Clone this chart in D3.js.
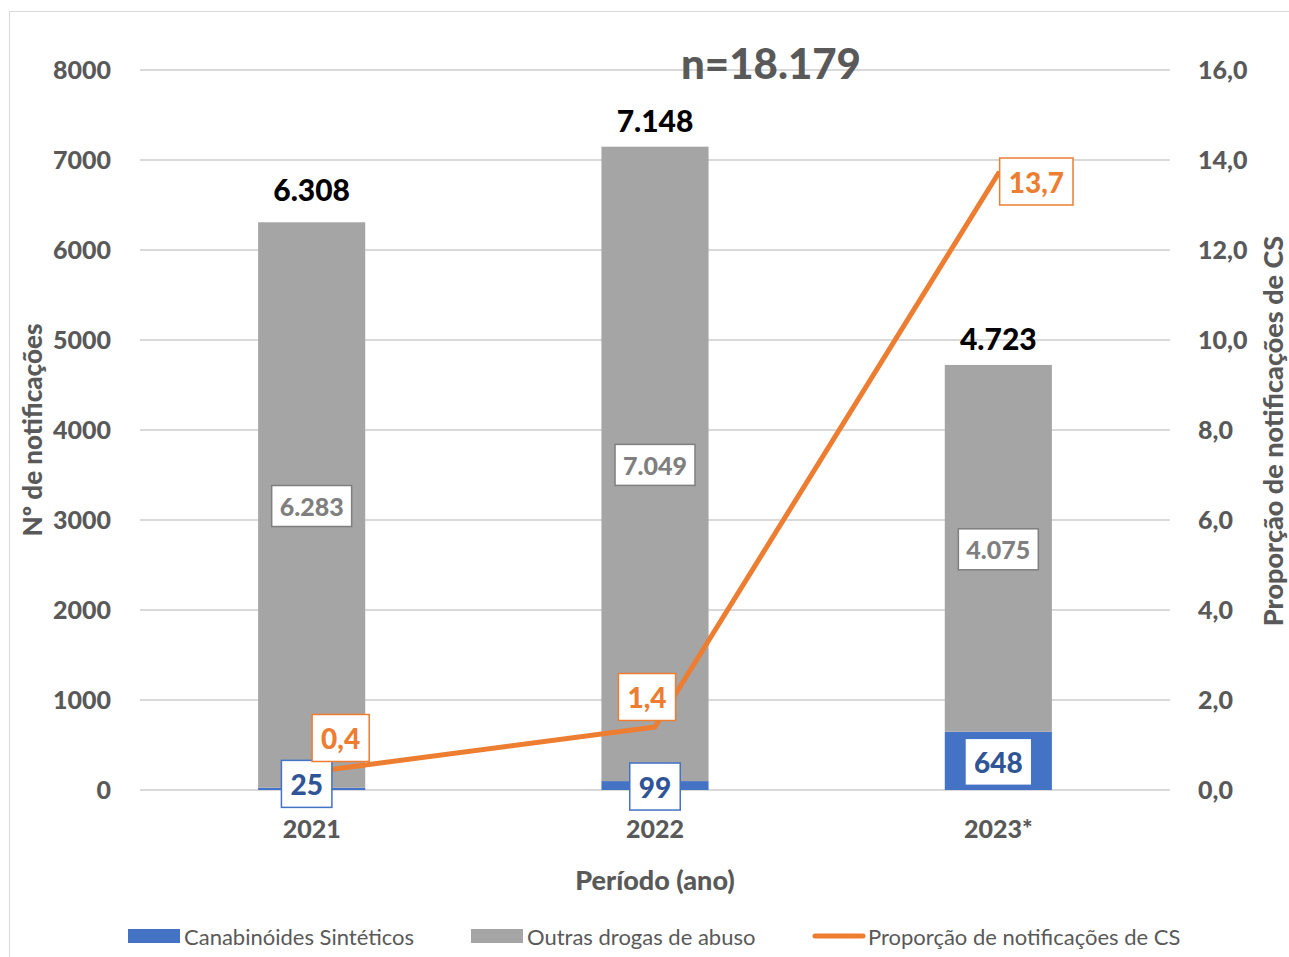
<!DOCTYPE html>
<html>
<head>
<meta charset="utf-8">
<script src="https://cdn.jsdelivr.net/npm/d3@7"></script>
<style>
  html, body { margin: 0; padding: 0; background: #fff; }
  svg text { font-family: Lato, "Open Sans", sans-serif; }
</style>
</head>
<body>
<svg id="chart" width="1289" height="957"></svg>
<script>
// data
const categories = ["2021", "2022", "2023*"];
const canabinoides = [25, 99, 648];
const outras = [6283, 7049, 4075];
const totais = [6308, 7148, 4723];
const proporcao = [0.4, 1.4, 13.7];
const leftTicks = [0, 1000, 2000, 3000, 4000, 5000, 6000, 7000, 8000];
const rightTicks = [0, 2, 4, 6, 8, 10, 12, 14, 16];
const nTotal = 18179;

// layout nudges (hand placed labels in the original)
const lineLabelNudge = [[29, -34], [-8, -30], [38, 8]];
const csLabelNudge = [[-5, -5], [0, 1], [0, 1]];
const totalNudge = [-6, 0, 0];

const width = 1289, height = 957;
const m = { left: 140, right: 1170, top: 70, bottom: 790 };

const blue = "#4472c4", gray = "#a5a5a5", orange = "#ed7d31", txt = "#595959";
const heavy = 900;

const pt = d3.formatLocale({ decimal: ",", thousands: ".", grouping: [3], currency: ["R$", ""] });
const fmtK = pt.format(",d");
const fmt1 = pt.format(".1f");

const svg = d3.select("#chart");

// frame
svg.append("rect")
  .attr("x", 9.5).attr("y", 11.5)
  .attr("width", width).attr("height", height)
  .attr("fill", "none").attr("stroke", "#d9d9d9").attr("stroke-width", 1);

const x = d3.scaleBand().domain(categories).range([m.left, m.right]).paddingInner(0.688).paddingOuter(0.344);
const y = d3.scaleLinear().domain([0, 8000]).range([m.bottom, m.top]);
const y2 = d3.scaleLinear().domain([0, 16]).range([m.bottom, m.top]);
const cx = c => x(c) + x.bandwidth() / 2;

// gridlines
svg.append("g")
  .selectAll("line")
  .data(leftTicks)
  .enter().append("line")
  .attr("x1", m.left).attr("x2", m.right)
  .attr("y1", d => y(d)).attr("y2", d => y(d))
  .attr("stroke", "#d9d9d9").attr("stroke-width", 2);

// left axis
const yAxis = svg.append("g")
  .attr("transform", "translate(" + (m.left - 29) + ",0)")
  .call(d3.axisLeft(y).tickValues(leftTicks).tickFormat(d3.format("d")).tickSize(0).tickPadding(0));
yAxis.select(".domain").remove();
yAxis.selectAll("text")
  .attr("font-size", 25).attr("font-weight", heavy).attr("fill", txt)
  .style("font-family", "Lato");

// right axis
const y2Axis = svg.append("g")
  .attr("transform", "translate(" + (m.right + 28) + ",0)")
  .call(d3.axisRight(y2).tickValues(rightTicks).tickFormat(fmt1).tickSize(0).tickPadding(0));
y2Axis.select(".domain").remove();
y2Axis.selectAll("text")
  .attr("font-size", 25).attr("font-weight", heavy).attr("fill", txt)
  .style("font-family", "Lato");

// x axis
const xAxis = svg.append("g")
  .attr("transform", "translate(0," + (m.bottom + 30) + ")")
  .call(d3.axisBottom(x).tickSize(0).tickPadding(0));
xAxis.select(".domain").remove();
xAxis.selectAll("text")
  .attr("font-size", 25).attr("font-weight", heavy).attr("fill", txt)
  .style("font-family", "Lato");

// stacked bars
const rows = categories.map((c, i) => ({ cat: c, cs: canabinoides[i], outras: outras[i], total: totais[i] }));
const stack = d3.stack().keys(["cs", "outras"])(rows);
const colors = { cs: blue, outras: gray };

svg.append("g")
  .selectAll("g")
  .data(stack)
  .enter().append("g")
  .attr("fill", d => colors[d.key])
  .selectAll("rect")
  .data(d => d)
  .enter().append("rect")
  .attr("x", d => x(d.data.cat))
  .attr("width", x.bandwidth())
  .attr("y", d => y(d[1]))
  .attr("height", d => y(d[0]) - y(d[1]));

// line
const linePts = categories.map((c, i) => [cx(c), y2(proporcao[i])]);
svg.append("path")
  .attr("d", d3.line()(linePts))
  .attr("fill", "none")
  .attr("stroke", orange)
  .attr("stroke-width", 5)
  .attr("stroke-linejoin", "round")
  .attr("stroke-linecap", "round");

// boxed label helper
function boxLabel(g, cxp, cyp, text, opt) {
  const t = g.append("text")
    .attr("x", cxp).attr("y", cyp)
    .attr("text-anchor", "middle")
    .attr("dominant-baseline", "central")
    .attr("font-size", opt.size).attr("font-weight", heavy)
    .attr("fill", opt.color)
    .text(text);
  const w = t.node().getComputedTextLength() + opt.padX * 2;
  g.insert("rect", "text:last-child")
    .attr("x", cxp - w / 2).attr("y", cyp - opt.h / 2)
    .attr("width", w).attr("height", opt.h)
    .attr("fill", "#fff")
    .attr("stroke", opt.border).attr("stroke-width", 1.5);
}

const labels = svg.append("g");

// leader line for 0,4
labels.append("line")
  .attr("x1", linePts[0][0] + 1).attr("y1", linePts[0][1])
  .attr("x2", linePts[0][0] + 19).attr("y2", linePts[0][1] - 7)
  .attr("stroke", "#a6a6a6").attr("stroke-width", 1.2);

// outras labels (middle of grey segment)
stack[1].forEach(d => {
  const g = labels.append("g");
  boxLabel(g, cx(d.data.cat), (y(d[0]) + y(d[1])) / 2 + 1, fmtK(d.data.outras),
    { size: 25, color: "#7f7f7f", border: "#7f7f7f", padX: 8, h: 41 });
});

// CS labels
stack[0].forEach((d, i) => {
  const g = labels.append("g");
  boxLabel(g, cx(d.data.cat) + csLabelNudge[i][0], (y(d[0]) + y(d[1])) / 2 + csLabelNudge[i][1], fmtK(d.data.cs),
    { size: 28, color: "#2f5597", border: blue, padX: 9, h: 47 });
});

// proportion labels
proporcao.forEach((v, i) => {
  const g = labels.append("g");
  boxLabel(g, linePts[i][0] + lineLabelNudge[i][0], linePts[i][1] + lineLabelNudge[i][1], fmt1(v),
    { size: 28, color: orange, border: orange, padX: 9, h: 47 });
});

// totals above bars
labels.selectAll(".total")
  .data(rows)
  .enter().append("text")
  .attr("class", "total")
  .attr("x", d => cx(d.cat))
  .attr("y", (d, i) => y(d.total) - 15 + totalNudge[i])
  .attr("text-anchor", "middle")
  .attr("font-size", 30).attr("font-weight", heavy).attr("fill", "#000")
  .text(d => fmtK(d.total));

// n total
svg.append("text")
  .attr("x", 771).attr("y", 79)
  .attr("text-anchor", "middle")
  .attr("font-size", 42).attr("font-weight", heavy).attr("fill", txt)
  .text("n=" + fmtK(nTotal));

// axis titles
svg.append("text")
  .attr("transform", "translate(42,430) rotate(-90)")
  .attr("text-anchor", "middle")
  .attr("font-size", 26).attr("font-weight", heavy).attr("fill", txt)
  .text("Nº de notificações");

svg.append("text")
  .attr("transform", "translate(1283,431) rotate(-90)")
  .attr("text-anchor", "middle")
  .attr("font-size", 27).attr("font-weight", heavy).attr("fill", txt)
  .text("Proporção de notificações de CS");

svg.append("text")
  .attr("x", 655).attr("y", 890)
  .attr("text-anchor", "middle")
  .attr("font-size", 27).attr("font-weight", heavy).attr("fill", txt)
  .text("Período (ano)");

// legend
const legendItems = [
  { name: "Canabinóides Sintéticos", type: "rect", color: blue, x: 128 },
  { name: "Outras drogas de abuso", type: "rect", color: gray, x: 471 },
  { name: "Proporção de notificações de CS", type: "line", color: orange, x: 812 }
];
const lg = svg.append("g").attr("transform", "translate(0,936)");
legendItems.forEach(it => {
  if (it.type === "rect") {
    lg.append("rect").attr("x", it.x).attr("y", -7).attr("width", 52).attr("height", 14).attr("fill", it.color);
  } else {
    lg.append("line").attr("x1", it.x + 3).attr("x2", it.x + 51).attr("y1", 0).attr("y2", 0)
      .attr("stroke", it.color).attr("stroke-width", 5).attr("stroke-linecap", "round");
  }
  lg.append("text")
    .attr("x", it.x + 56).attr("y", 0)
    .attr("dominant-baseline", "central")
    .attr("font-size", 22).attr("fill", txt)
    .text(it.name);
});
</script>
</body>
</html>
